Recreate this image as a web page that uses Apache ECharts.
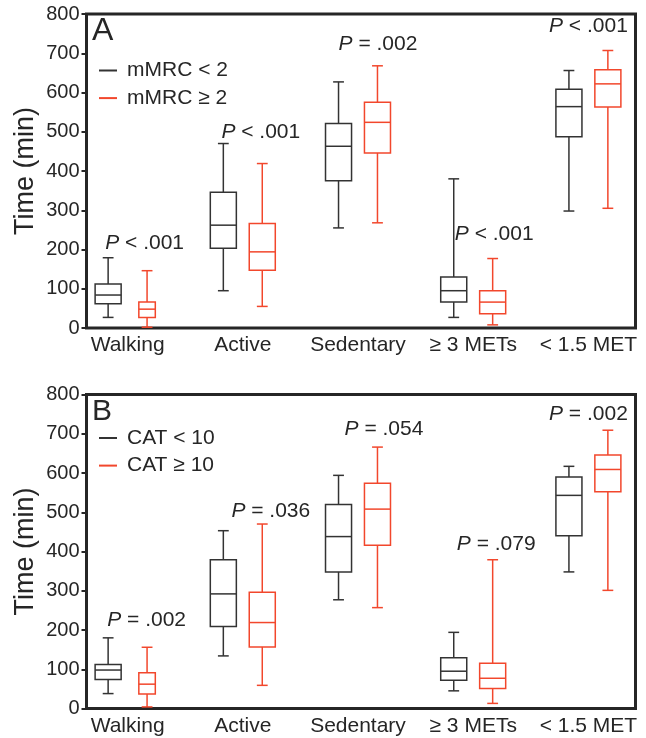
<!DOCTYPE html>
<html><head><meta charset="utf-8">
<script src="https://cdn.jsdelivr.net/npm/echarts@6/dist/echarts.min.js"></script>
<style>html,body{margin:0;padding:0;background:#fff}#c{width:646px;height:738px}</style>
</head><body><div id="c"></div><script>
// ---- data ----
const categories = ['Walking', 'Active', 'Sedentary', '\u2265 3 METs', '< 1.5 MET'];
const yMin = 0, yMax = 800, yStep = 100;
// each entry: [min, Q1, median, Q3, max]  (minutes)
const mmrcLow  = [[27, 62, 84, 112, 179], [95, 203, 262, 346, 470], [255, 375, 463, 521, 627], [27, 66, 95, 130, 380], [298, 487, 564, 608, 656]];
const mmrcHigh = [[2, 27, 48, 66, 146], [55, 147, 194, 266, 419], [268, 446, 524, 575, 668], [8, 36, 66, 95, 177], [305, 563, 622, 658, 707]];
const catLow   = [[38, 74, 98, 112, 180], [134, 209, 292, 379, 453], [277, 348, 438, 520, 594], [45, 72, 95, 129, 194], [348, 440, 543, 590, 617]];
const catHigh  = [[4, 37, 62, 91, 156], [59, 157, 219, 296, 470], [257, 416, 508, 574, 666], [13, 51, 77, 115, 379], [301, 552, 609, 646, 709]];
const pTextA = ['< .001', '< .001', '= .002', '< .001', '< .001'];
const pTextB = ['= .002', '= .036', '= .054', '= .079', '= .002'];
const seriesNamesA = ['mMRC < 2', 'mMRC \u2265 2'];
const seriesNamesB = ['CAT < 10', 'CAT \u2265 10'];

// ---- layout / style (not data) ----
const FONT = '"Liberation Sans", Arial, Helvetica, sans-serif';
const TXT = '#262626';
const BLACK = '#333333';
const RED = '#f2472c';
const FRAME = '#262626';
const pLayoutA = { y: [217, 498, 723, 238, 769], dx: [17, 18, 20, 21, 0] };
const pLayoutB = { y: [225, 502, 711, 419, 749], dx: [19, 28, 26, 23, 0] };
const panels = [{ top: 14, h: 314 }, { top: 394.5, h: 314 }];

function boxRender(side, color) {
  return function (params, api) {
    const ci = api.value(0);
    const v = [1, 2, 3, 4, 5].map(k => api.value(k));
    const band = api.size([1, 0])[0];
    const cx = api.coord([ci, 0])[0] + side * band * 0.169;
    let bw = band * 0.226;
    if (ci === 0 && side > 0) bw = band * 0.143;
    const cap = band * 0.094;
    const y = val => api.coord([ci, val])[1];
    const st = { stroke: color, lineWidth: 1.5, fill: null };
    return {
      type: 'group', children: [
        { type: 'line', shape: { x1: cx, y1: y(v[4]), x2: cx, y2: y(v[3]) }, style: st },
        { type: 'line', shape: { x1: cx, y1: y(v[1]), x2: cx, y2: y(v[0]) }, style: st },
        { type: 'line', shape: { x1: cx - cap / 2, y1: y(v[4]), x2: cx + cap / 2, y2: y(v[4]) }, style: st },
        { type: 'line', shape: { x1: cx - cap / 2, y1: y(v[0]), x2: cx + cap / 2, y2: y(v[0]) }, style: st },
        { type: 'rect', shape: { x: cx - bw / 2, y: y(v[3]), width: bw, height: y(v[1]) - y(v[3]) }, style: st },
        { type: 'line', shape: { x1: cx - bw / 2, y1: y(v[2]), x2: cx + bw / 2, y2: y(v[2]) }, style: st }
      ]
    };
  };
}
function pRender(texts, lay) {
  return function (params, api) {
    const i = params.dataIndex;
    const p = api.coord([api.value(0), api.value(1)]);
    return {
      type: 'text', x: p[0] + lay.dx[i], y: p[1],
      style: {
        text: '{i|P} ' + texts[i],
        rich: { i: { fontStyle: 'italic', fontSize: 21, fontFamily: FONT, fill: TXT } },
        fontSize: 21, fontFamily: FONT, fill: TXT,
        align: 'center', verticalAlign: 'middle', textAlign: 'center', textVerticalAlign: 'middle'
      }
    };
  };
}
const toRows = arr => arr.map((r, i) => [i].concat(r));

const grids = [], xAxes = [], yAxes = [], series = [], legends = [], graphics = [];
[[mmrcLow, mmrcHigh, pTextA, pLayoutA, seriesNamesA, 'A'], [catLow, catHigh, pTextB, pLayoutB, seriesNamesB, 'B']].forEach((pd, k) => {
  const pn = panels[k];
  const g0 = grids.length;
  grids.push({ left: 86.5, width: 549, top: pn.top, height: pn.h, show: true, borderColor: FRAME, borderWidth: 3, backgroundColor: 'transparent' });
  grids.push({ left: 70, width: 582, top: pn.top, height: pn.h });
  xAxes.push({ gridIndex: g0, type: 'value', show: false, min: 0, max: 1 });
  xAxes.push({
    gridIndex: g0 + 1, type: 'category', data: categories,
    axisLine: { show: false }, axisTick: { show: false },
    axisLabel: { color: TXT, fontSize: 21, fontFamily: FONT, margin: 7, interval: 0 }
  });
  yAxes.push({
    gridIndex: g0, type: 'value', min: yMin, max: yMax, interval: yStep,
    name: 'Time (min)', nameLocation: 'middle', nameGap: 47, nameMoveOverlap: false,
    nameTextStyle: { color: TXT, fontSize: 27, fontFamily: FONT },
    axisLine: { show: false },
    axisTick: { show: true, length: 5, lineStyle: { color: FRAME, width: 2 } },
    axisLabel: { color: TXT, fontSize: 20, fontFamily: FONT, margin: 7 },
    splitLine: { show: false }
  });
  yAxes.push({ gridIndex: g0 + 1, type: 'value', min: yMin, max: yMax, show: false, splitLine: { show: false } });
  series.push({ type: 'custom', name: pd[4][0], xAxisIndex: g0 + 1, yAxisIndex: g0 + 1, itemStyle: { color: BLACK },
    renderItem: boxRender(-1, BLACK), encode: { x: 0, y: [1, 2, 3, 4, 5] }, data: toRows(pd[0]), silent: true });
  series.push({ type: 'custom', name: pd[4][1], xAxisIndex: g0 + 1, yAxisIndex: g0 + 1, itemStyle: { color: RED },
    renderItem: boxRender(1, RED), encode: { x: 0, y: [1, 2, 3, 4, 5] }, data: toRows(pd[1]), silent: true });
  series.push({ type: 'custom', name: 'p' + k, xAxisIndex: g0 + 1, yAxisIndex: g0 + 1,
    renderItem: pRender(pd[2], pd[3]), encode: { x: 0, y: 1 }, data: pd[3].y.map((yy, i) => [i, yy]), silent: true });
  legends.push({
    orient: 'vertical', left: 99, top: k === 0 ? 60 : 427.5, padding: 0,
    itemWidth: 18, itemHeight: 2, itemGap: 6.6, icon: 'rect',
    textStyle: { color: TXT, fontSize: 21, fontFamily: FONT, lineHeight: 21, padding: [0, 0, 0, 5] },
    data: [{ name: pd[4][0], itemStyle: { color: BLACK } }, { name: pd[4][1], itemStyle: { color: RED } }],
    selectedMode: false
  });
  graphics.push({ type: 'text', x: 92, y: k === 0 ? 31 : 412,
    style: { text: pd[5], fontSize: k === 0 ? 32 : 30, fontFamily: FONT, fill: TXT, verticalAlign: 'middle', textVerticalAlign: 'middle' } });
});

const chart = echarts.init(document.getElementById('c'), null, { renderer: 'canvas' });
chart.setOption({
  backgroundColor: '#ffffff',
  animation: false,
  grid: grids, xAxis: xAxes, yAxis: yAxes, series: series, legend: legends, graphic: graphics
});
</script></body></html>
